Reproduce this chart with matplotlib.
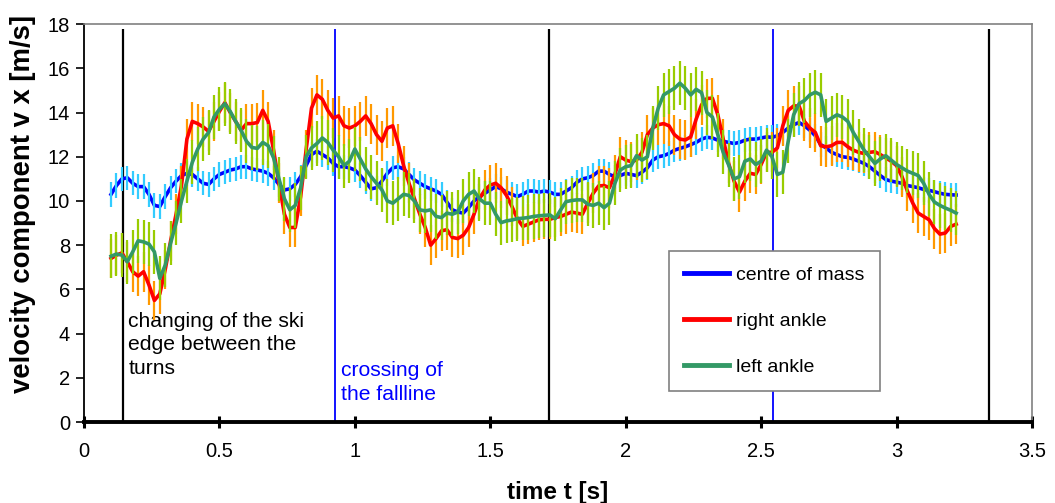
import numpy as np
import matplotlib.pyplot as plt

# velocity vx [m/s], sampled every 0.02 s starting at t = 0.10 s
com = [10.3, 10.7, 11.0, 11.05, 10.8, 10.65, 10.65, 10.3, 9.8, 9.75,
       10.2, 10.6, 10.9, 11.15, 11.25, 11.2, 11.0, 10.8, 10.75, 11.0,
       11.2, 11.3, 11.4, 11.45, 11.55, 11.55, 11.45, 11.4, 11.35, 11.25,
       11.05, 10.75, 10.5, 10.55, 10.75, 11.1, 11.6, 12.1, 12.25, 12.1,
       11.95, 11.7, 11.55, 11.55, 11.5, 11.4, 11.15, 10.85, 10.55, 10.6,
       10.9, 11.25, 11.5, 11.55, 11.45, 11.2, 10.95, 10.8, 10.65, 10.55,
       10.45, 10.3, 9.95, 9.6, 9.5, 9.45, 9.7, 10.0, 10.2, 10.35,
       10.5, 10.65, 10.55, 10.4, 10.3, 10.2, 10.3, 10.45, 10.45, 10.4,
       10.45, 10.4, 10.3, 10.3, 10.45, 10.6, 10.85, 11.0, 11.05, 11.15,
       11.35, 11.35, 11.2, 11.1, 11.15, 11.25, 11.2, 11.15, 11.3, 11.5,
       11.85, 12.0, 12.05, 12.15, 12.3, 12.38, 12.45, 12.55, 12.65, 12.8,
       12.88, 12.85, 12.75, 12.7, 12.65, 12.6, 12.65, 12.75, 12.8, 12.8,
       12.85, 12.9, 12.88, 12.95, 13.1, 13.3, 13.45, 13.55, 13.4, 13.2,
       12.95, 12.55, 12.4, 12.2, 12.1, 12.0, 11.97, 11.9, 11.8, 11.7,
       11.55, 11.35, 11.15, 10.97, 10.9, 10.85, 10.8, 10.7, 10.65, 10.6,
       10.52, 10.48, 10.42, 10.35, 10.3, 10.28, 10.27]

right = [7.4, 7.55, 7.65, 7.25, 6.8, 6.6, 6.8, 6.2, 5.5, 5.8,
         6.9, 8.2, 9.4, 10.7, 12.8, 13.6, 13.5, 13.35, 13.15, 13.6,
         14.05, 14.45, 14.0, 13.6, 13.2, 13.5, 13.5, 13.55, 14.1, 13.6,
         12.3, 10.8, 9.4, 8.8, 8.8, 10.2, 12.3, 14.2, 14.8, 14.6,
         14.1, 13.75, 13.85, 13.4, 13.3, 13.4, 13.6, 13.85, 13.5, 13.0,
         12.7, 13.3, 13.4, 12.6, 11.6, 10.8, 10.1, 9.4, 8.8, 8.0,
         8.3, 8.65, 8.7, 8.35, 8.3, 8.45, 8.8, 9.4, 10.1, 10.5,
         10.72, 10.8, 10.6, 10.25, 9.75, 9.2, 8.85, 8.95, 9.05, 9.15,
         9.17, 9.17, 9.25, 9.3, 9.4, 9.5, 9.45, 9.4, 9.9, 10.35,
         10.68, 10.7, 10.6, 11.2, 12.0, 11.85, 11.78, 11.85, 12.2, 13.0,
         13.3, 13.45, 13.5, 13.4, 13.0, 12.8, 12.76, 12.9, 13.7, 14.35,
         14.64, 14.65, 13.9, 12.8, 11.7, 10.9, 10.4, 10.9, 11.25, 11.2,
         11.65, 12.2, 12.2, 12.4, 13.4, 14.1, 14.3, 14.3, 13.6, 13.3,
         13.1, 12.5, 12.45, 12.5, 12.65, 12.65, 12.45, 12.3, 12.2, 12.15,
         12.2, 12.23, 12.1, 11.95, 11.8, 11.6, 11.1, 10.45, 9.9, 9.45,
         9.3, 9.15, 8.75, 8.5, 8.55, 8.85, 8.95]

left = [7.5, 7.6, 7.55, 7.25, 7.7, 8.2, 8.15, 8.05, 7.7, 6.5,
        7.1, 8.1, 9.0, 10.0, 10.9, 11.75, 12.35, 12.8, 13.1, 13.8,
        14.15, 14.4, 14.05, 13.6, 13.2, 12.7, 12.42, 12.38, 12.65, 12.5,
        11.95, 11.0, 10.1, 9.6, 9.8, 10.6, 12.0, 12.4, 12.6, 12.85,
        12.65, 12.3, 12.0, 11.6, 11.8, 12.35, 11.9, 11.45, 11.1, 10.8,
        10.5, 10.0, 9.9, 10.1, 10.3, 10.25, 10.0, 9.6, 9.55, 9.6,
        9.3, 9.25, 9.45, 9.4, 9.5, 10.0, 10.3, 10.45, 10.1, 9.9,
        9.9, 9.4, 9.02, 9.1, 9.14, 9.2, 9.22, 9.25, 9.3, 9.33,
        9.35, 9.37, 9.2, 9.6, 9.97, 10.02, 10.05, 10.05, 9.85, 9.8,
        9.9, 9.7, 9.9, 10.8, 11.4, 11.55, 11.6, 12.05, 11.85, 12.0,
        13.3, 14.2, 14.8, 14.95, 15.1, 15.33, 15.1, 14.8, 15.05, 14.9,
        14.0, 13.8, 13.0, 12.2, 11.63, 11.0, 11.1, 11.8, 11.9, 11.65,
        11.8, 12.3, 12.0, 11.2, 11.3, 12.7, 13.9, 14.4, 14.55, 14.8,
        14.92, 14.8, 13.6, 13.75, 13.9, 13.8, 13.6, 13.1, 12.7, 12.3,
        12.0, 11.7, 11.9, 12.05, 11.85, 11.65, 11.5, 11.35, 11.25, 11.15,
        10.8, 10.3, 9.95, 9.8, 9.68, 9.58, 9.45]

err_com, err_right, err_left = 0.55, 0.9, 1.0

t = 0.10 + 0.02 * np.arange(len(com))

edge_times = [0.143, 1.717, 3.342]   # changing of the ski edge
fall_times = [0.927, 2.544]          # crossing of the fallline

plt.rcParams['font.family'] = ['Liberation Sans', 'DejaVu Sans']

fig = plt.figure(figsize=(10.55, 5.03), dpi=100)
ax = fig.add_axes([0.0796, 0.161, 0.8986, 0.791])

# centre of mass: line below its error bars
ax.plot(t, com, color='#0000FF', lw=2.6, zorder=3, label='centre of mass')
ax.errorbar(t, com, yerr=err_com, fmt='none', ecolor='#33CCFF', elinewidth=1.6, zorder=3.5)

ax.errorbar(t, right, yerr=err_right, fmt='none', ecolor='#FF9900', elinewidth=1.6, zorder=4)
ax.plot(t, right, color='#FF0000', lw=2.6, zorder=4.5, label='right ankle')

ax.errorbar(t, left, yerr=err_left, fmt='none', ecolor='#99CC00', elinewidth=1.6, zorder=5)
ax.plot(t, left, color='#339966', lw=2.6, zorder=5.5, label='left ankle')

ax.vlines(edge_times, 0, 17.8, color='black', lw=1.6, zorder=2)
ax.vlines(fall_times, 0, 17.8, color='#0000FF', lw=1.3, zorder=2)

ax.text(0.163, 3.5, 'changing of the ski\nedge between the\nturns', fontsize=15.2,
        va='center', ha='left', linespacing=1.3)
ax.text(0.949, 1.78, 'crossing of\nthe fallline', fontsize=15.2, color='#0000FF',
        va='center', ha='left', linespacing=1.3)

ax.set_xlim(0, 3.5)
ax.set_ylim(0, 18)
ax.set_xticks(np.arange(0, 3.51, 0.5))
ax.set_xticklabels(['0', '0.5', '1', '1.5', '2', '2.5', '3', '3.5'])
ax.set_yticks(np.arange(0, 19, 2))
ax.tick_params(axis='both', labelsize=14.5)
ax.tick_params(axis='y', direction='out', length=6, width=1.2, pad=4)
ax.tick_params(axis='x', direction='inout', length=9, width=2.2, pad=10)

ax.spines['left'].set_linewidth(1.3)
ax.spines['bottom'].set_linewidth(2.8)
for s in ('top', 'right'):
    ax.spines[s].set_color('#808080')
    ax.spines[s].set_linewidth(1.2)

ax.set_xlabel('time t [s]', fontsize=17.5, fontweight='bold', labelpad=14)
ax.set_ylabel('velocity component v x [m/s]', fontsize=19.8, fontweight='bold')
ax.yaxis.set_label_coords(-0.051, 0.548)

leg = ax.legend(loc='upper left', bbox_to_anchor=(0.617, 0.43), borderaxespad=0,
                fontsize=14, frameon=True, fancybox=False, edgecolor='#808080',
                framealpha=1, handlelength=2.3, labelspacing=1.45, borderpad=0.8,
                handletextpad=0.35)
leg.get_frame().set_linewidth(1.2)
for h in leg.get_lines():
    h.set_linewidth(3.5)

fig.savefig('out.png', dpi=100)
